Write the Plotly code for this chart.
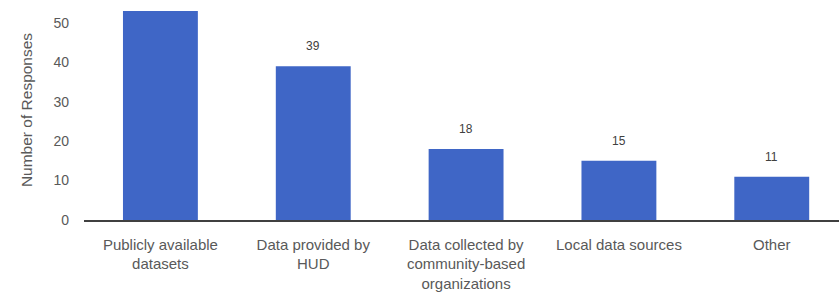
import plotly.graph_objects as go

categories = [
    "Publicly available<br>datasets",
    "Data provided by<br>HUD",
    "Data collected by<br>community-based<br>organizations",
    "Local data sources",
    "Other",
]
responses = [53, 39, 18, 15, 11]
y_ticks = [0, 10, 20, 30, 40, 50]

bar_color = "#3F66C6"
text_color = "#595959"
font_family = "Liberation Sans, Arial, sans-serif"

y_max = 55.8
label_shift_px = 20
plot_height_px = 220
px_per_unit = plot_height_px / y_max

fig = go.Figure()
fig.add_trace(go.Bar(
    x=categories,
    y=responses,
    marker=dict(color=bar_color, line=dict(width=0)),
    width=0.49,
))

# value labels; those that fall beyond the visible top of the chart are cropped away
annotations = [
    dict(x=c, y=v, text=str(v), showarrow=False, xref="x", yref="y",
         yanchor="middle", yshift=label_shift_px,
         font=dict(size=12, color="#404040", family=font_family))
    for c, v in zip(categories, responses)
    if v + (label_shift_px + 6) / px_per_unit <= y_max
]

fig.update_layout(
    width=839, height=294,
    margin=dict(l=84, r=0, t=0, b=74, autoexpand=False),
    paper_bgcolor="white", plot_bgcolor="white",
    showlegend=False,
    annotations=annotations,
    font=dict(family=font_family, size=14, color=text_color),
    xaxis=dict(
        range=[-0.5, 4.44],
        showline=True, linecolor="#404040", linewidth=1.5,
        showgrid=False, ticks="", tickangle=0,
        ticklabelstandoff=10,
        tickfont=dict(size=15, color=text_color),
        automargin=False,
    ),
    yaxis=dict(
        range=[0, y_max],
        tickvals=y_ticks,
        showline=False, showgrid=False, zeroline=False,
        ticks="", ticklabelstandoff=14,
        tickfont=dict(size=14, color=text_color),
        title=dict(text="Number of Responses", standoff=16,
                   font=dict(size=15.5, color=text_color)),
        automargin=False,
    ),
)

fig.write_html(
    "out.html",
    config={"displayModeBar": False},
    post_script="document.body.style.margin='0';document.body.style.overflow='hidden';",
)
